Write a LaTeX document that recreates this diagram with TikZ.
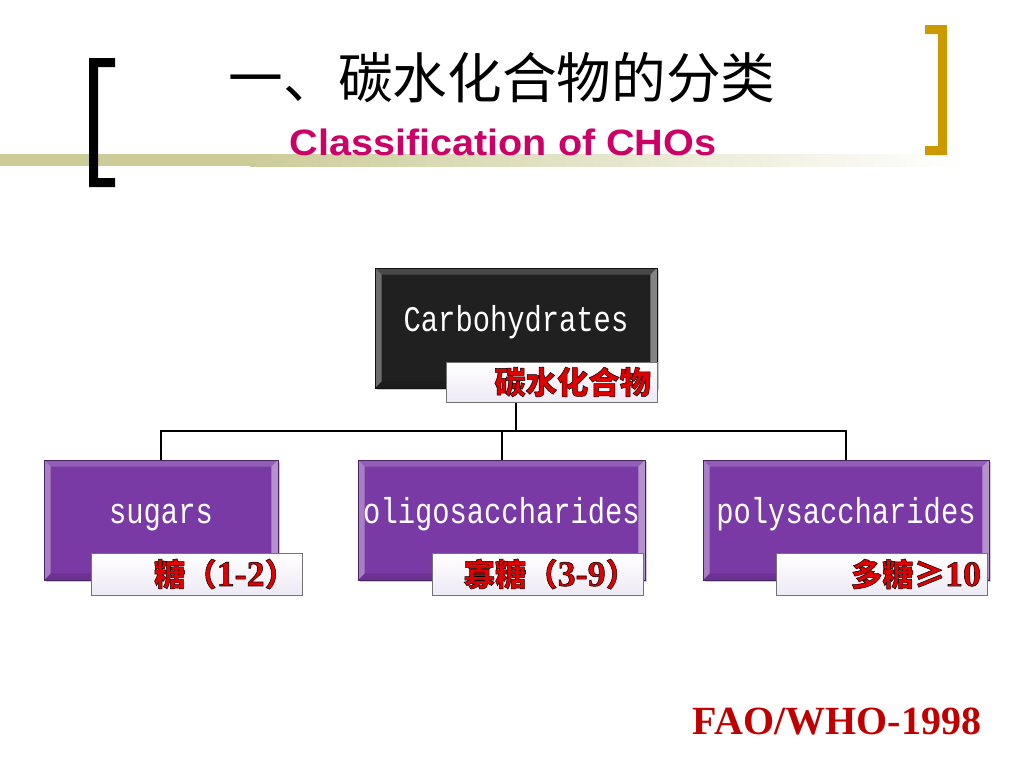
\documentclass[tikz,border=0pt]{standalone}
\usepackage{fontspec}
\setmainfont{Liberation Serif}
\newfontfamily\cjk{Noto Sans CJK SC}
\newfontfamily\cjkol{Noto Sans CJK SC}[FakeBold=1.6]
\newfontfamily\digol{Liberation Serif}[FakeBold=1.6]
\newfontfamily\arialx{Liberation Sans}[FakeStretch=1.08]
\newfontfamily\monox{Liberation Mono}[FakeStretch=0.8]
\usetikzlibrary{shadows,backgrounds,calc}
\newcommand\olstroke{\special{pdf:literal direct 0 0 0 RG}}
\definecolor{purp}{RGB}{122,58,166}
\definecolor{blk}{RGB}{32,32,32}
\definecolor{labred}{RGB}{225,0,0}
\definecolor{faored}{RGB}{192,0,0}
\definecolor{magen}{RGB}{204,0,102}
\definecolor{goldc}{RGB}{204,153,0}
\definecolor{bandc}{RGB}{204,204,153}
\definecolor{lablav}{RGB}{238,233,245}
\tikzset{
  bevel/.style={path picture={
    \coordinate (q1) at (path picture bounding box.north west);
    \coordinate (q3) at (path picture bounding box.south east);
    \coordinate (q2) at (q1 -| q3);
    \coordinate (q4) at (q3 -| q1);
    \fill[white,opacity=.18] (q1) -- (q2) -- ([shift={(-5pt,-5pt)}]q2) -- ([shift={(5pt,-5pt)}]q1) -- cycle;
    \fill[white,opacity=.35] (q1) -- (q4) -- ([shift={(5pt,5pt)}]q4) -- ([shift={(5pt,-5pt)}]q1) -- cycle;
    \fill[white,opacity=.45] (q2) -- (q3) -- ([shift={(-5pt,5pt)}]q3) -- ([shift={(-5pt,-5pt)}]q2) -- cycle;
    \fill[black,opacity=.12] (q4) -- (q3) -- ([shift={(-5pt,5pt)}]q3) -- ([shift={(5pt,5pt)}]q4) -- cycle;
  }},
  mainbox/.style={draw=#1!60!black, line width=0.4pt, fill=#1, bevel,
    drop shadow={opacity=.4,shadow xshift=1.5pt,shadow yshift=-1.5pt},
    minimum height=90pt, text=white, font=\monox\fontsize{27}{30}\selectfont,
    text height=15pt, text depth=10pt, inner sep=0pt},
  labbox/.style={draw=black!55, line width=0.6pt, top color=white, bottom color=lablav,
    minimum width=158.25pt, minimum height=31.5pt, text width=149.25pt, align=right,
    inner xsep=4.5pt, inner ysep=0pt, text=labred,
    font=\cjkol\bfseries\fontsize{23.5}{26}\selectfont},
  digs/.style={},
  conn/.style={line width=1.5pt, black},
}
\newcommand\dg[1]{{\digol\bfseries\fontsize{27}{28}\selectfont #1}}
\begin{document}
\begin{tikzpicture}[x=0.75pt,y=-0.75pt]
\useasboundingbox (0,0) rectangle (1024,768);
% header band and brackets
\fill[bandc] (0,154) rectangle (250,166);
\shade[left color=bandc, right color=white] (250,154) rectangle (965,166);
\fill[black] (89,58) -- (115,58) -- (115,67) -- (98,67) -- (98,178) -- (115,178) -- (115,187) -- (89,187) -- cycle;
\fill[goldc] (925,25) -- (947,25) -- (947,155) -- (925,155) -- (925,146) -- (938,146) -- (938,34) -- (925,34) -- cycle;
% titles
\node[font=\cjk\fontsize{41}{45}\selectfont] (title) at (502,78) {一、碳水化合物的分类};
\node[font=\arialx\bfseries\fontsize{27.5}{30}\selectfont, text=magen] (subtitle) at (503,142) {Classification of CHOs};
% boxes
\node[mainbox=blk, minimum width=211.5pt] (top) at (516,328) {Carbohydrates};
\node[labbox, minimum height=30pt] (toplab) at (551.5,382) {\olstroke 碳水化合物};
\node[mainbox=purp, minimum width=175.5pt] (sug) at (161,520) {sugars};
\node[labbox] (suglab) at (196.5,574) {\olstroke 糖（\dg{1-2}）};
\node[mainbox=purp, minimum width=215.25pt] (oli) at (501.5,520) {oligosaccharides};
\node[labbox] (olilab) at (537.5,574) {\olstroke 寡糖（\dg{3-9}）};
\node[mainbox=purp, minimum width=214.5pt] (pol) at (846,520) {polysaccharides};
\node[labbox] (pollab) at (881.5,574) {\olstroke 多糖≥\dg{10}};
% source
\node[font=\bfseries\fontsize{30}{32}\selectfont, text=faored] (src) at (837,721) {FAO/WHO-1998};
% connectors
\begin{scope}[on background layer]
\fill[white] (0,0) rectangle (1024,768);
\coordinate (bus) at (516,431);
\draw[conn] (top.south) -- (bus);
\draw[conn] (sug.north) |- (bus);
\draw[conn] (oli.north) -- (oli.north |- bus);
\draw[conn] (pol.north) |- (bus);
\end{scope}
\end{tikzpicture}
\end{document}
